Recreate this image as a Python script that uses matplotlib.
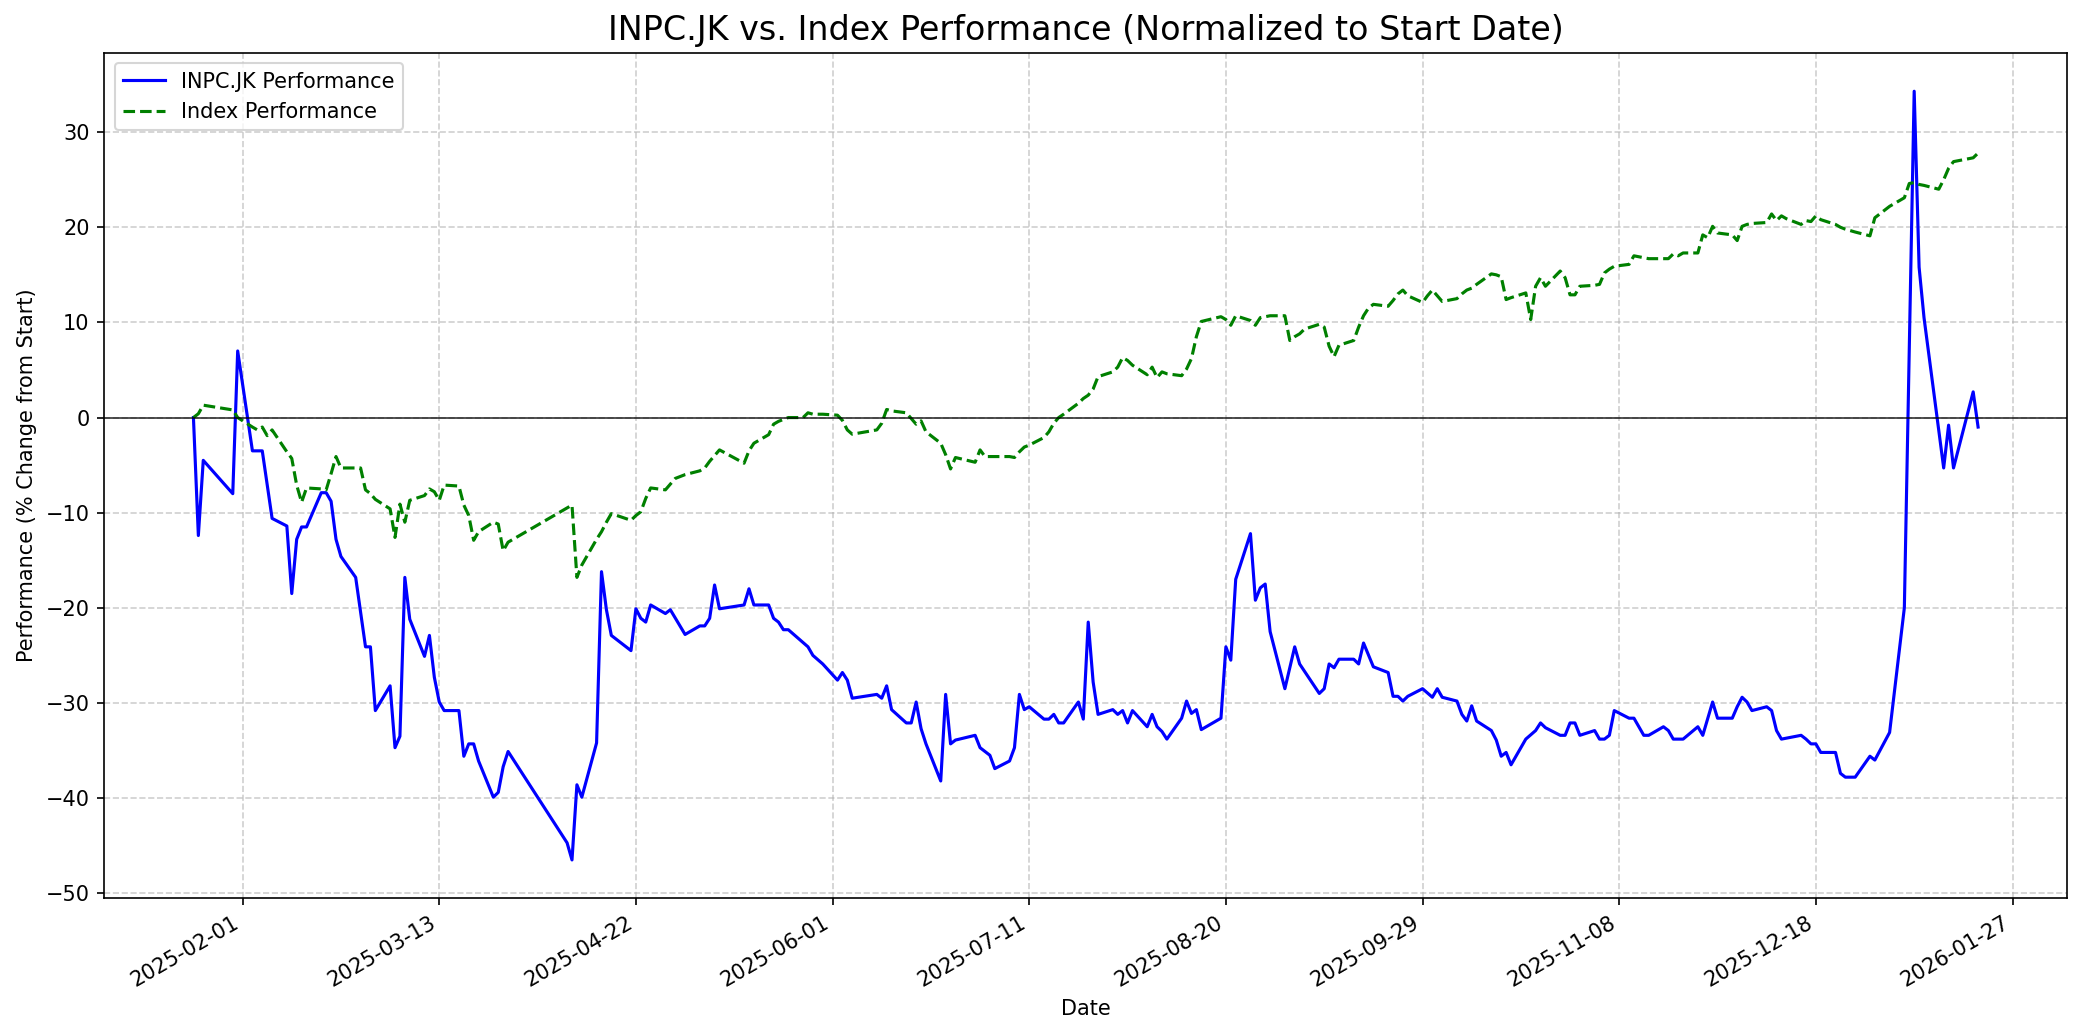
import pandas as pd
import matplotlib
matplotlib.use("Agg")
import matplotlib.pyplot as plt
import matplotlib.dates as mdates

# INPC.JK performance (% change from start)
stock_dates = [
    "2025-01-22", "2025-01-23", "2025-01-24", "2025-01-30", "2025-01-31", "2025-02-03", "2025-02-05",
    "2025-02-07", "2025-02-10", "2025-02-11", "2025-02-12", "2025-02-13", "2025-02-14", "2025-02-17",
    "2025-02-18", "2025-02-19", "2025-02-20", "2025-02-21", "2025-02-24", "2025-02-26", "2025-02-27",
    "2025-02-28", "2025-03-03", "2025-03-04", "2025-03-05", "2025-03-06", "2025-03-07", "2025-03-10",
    "2025-03-11", "2025-03-12", "2025-03-13", "2025-03-14", "2025-03-17", "2025-03-18", "2025-03-19",
    "2025-03-20", "2025-03-21", "2025-03-24", "2025-03-25", "2025-03-26", "2025-03-27", "2025-04-08",
    "2025-04-09", "2025-04-10", "2025-04-11", "2025-04-14", "2025-04-15", "2025-04-16", "2025-04-17",
    "2025-04-21", "2025-04-22", "2025-04-23", "2025-04-24", "2025-04-25", "2025-04-28", "2025-04-29",
    "2025-05-02", "2025-05-05", "2025-05-06", "2025-05-07", "2025-05-08", "2025-05-09", "2025-05-14",
    "2025-05-15", "2025-05-16", "2025-05-19", "2025-05-20", "2025-05-21", "2025-05-22", "2025-05-23",
    "2025-05-27", "2025-05-28", "2025-05-30", "2025-06-02", "2025-06-03", "2025-06-04", "2025-06-05",
    "2025-06-10", "2025-06-11", "2025-06-12", "2025-06-13", "2025-06-16", "2025-06-17", "2025-06-18",
    "2025-06-19", "2025-06-20", "2025-06-23", "2025-06-24", "2025-06-25", "2025-06-26", "2025-06-30",
    "2025-07-01", "2025-07-03", "2025-07-04", "2025-07-07", "2025-07-08", "2025-07-09", "2025-07-10",
    "2025-07-11", "2025-07-14", "2025-07-15", "2025-07-16", "2025-07-17", "2025-07-18", "2025-07-21",
    "2025-07-22", "2025-07-23", "2025-07-24", "2025-07-25", "2025-07-28", "2025-07-29", "2025-07-30",
    "2025-07-31", "2025-08-01", "2025-08-04", "2025-08-05", "2025-08-06", "2025-08-07", "2025-08-08",
    "2025-08-11", "2025-08-12", "2025-08-13", "2025-08-14", "2025-08-15", "2025-08-19", "2025-08-20",
    "2025-08-21", "2025-08-22", "2025-08-25", "2025-08-26", "2025-08-27", "2025-08-28", "2025-08-29",
    "2025-09-01", "2025-09-03", "2025-09-04", "2025-09-08", "2025-09-09", "2025-09-10", "2025-09-11",
    "2025-09-12", "2025-09-15", "2025-09-16", "2025-09-17", "2025-09-19", "2025-09-22", "2025-09-23",
    "2025-09-24", "2025-09-25", "2025-09-26", "2025-09-29", "2025-10-01", "2025-10-02", "2025-10-03",
    "2025-10-06", "2025-10-07", "2025-10-08", "2025-10-09", "2025-10-10", "2025-10-13", "2025-10-14",
    "2025-10-15", "2025-10-16", "2025-10-17", "2025-10-20", "2025-10-22", "2025-10-23", "2025-10-24",
    "2025-10-27", "2025-10-28", "2025-10-29", "2025-10-30", "2025-10-31", "2025-11-03", "2025-11-04",
    "2025-11-05", "2025-11-06", "2025-11-07", "2025-11-10", "2025-11-11", "2025-11-13", "2025-11-14",
    "2025-11-17", "2025-11-18", "2025-11-19", "2025-11-21", "2025-11-24", "2025-11-25", "2025-11-27",
    "2025-11-28", "2025-12-01", "2025-12-02", "2025-12-03", "2025-12-04", "2025-12-05", "2025-12-08",
    "2025-12-09", "2025-12-10", "2025-12-11", "2025-12-15", "2025-12-16", "2025-12-17", "2025-12-18",
    "2025-12-19", "2025-12-22", "2025-12-23", "2025-12-24", "2025-12-26", "2025-12-29", "2025-12-30",
    "2026-01-02", "2026-01-05", "2026-01-07", "2026-01-08", "2026-01-09", "2026-01-13", "2026-01-14",
    "2026-01-15", "2026-01-19", "2026-01-20",
]
stock_perf = [
    0.0, -12.4, -4.5, -8.0, 7.0, -3.5, -3.5,
    -10.6, -11.4, -18.5, -12.8, -11.5, -11.5, -7.9,
    -7.9, -8.8, -12.8, -14.6, -16.8, -24.1, -24.1,
    -30.8, -28.2, -34.7, -33.5, -16.8, -21.2, -25.1,
    -22.9, -27.3, -29.9, -30.8, -30.8, -35.6, -34.3,
    -34.3, -36.1, -39.9, -39.4, -36.7, -35.1, -44.7,
    -46.5, -38.6, -39.9, -34.2, -16.2, -20.2, -22.9,
    -24.5, -20.1, -21.1, -21.5, -19.7, -20.6, -20.2,
    -22.8, -21.9, -21.9, -21.1, -17.6, -20.1, -19.7,
    -18.0, -19.7, -19.7, -21.1, -21.5, -22.3, -22.3,
    -24.1, -25.0, -25.9, -27.6, -26.8, -27.6, -29.5,
    -29.1, -29.5, -28.2, -30.7, -32.1, -32.1, -29.9,
    -32.7, -34.3, -38.2, -29.1, -34.3, -33.9, -33.4,
    -34.7, -35.5, -36.9, -36.1, -34.7, -29.1, -30.7,
    -30.4, -31.7, -31.7, -31.2, -32.1, -32.1, -29.9,
    -31.7, -21.5, -27.8, -31.2, -30.7, -31.2, -30.8,
    -32.1, -30.8, -32.5, -31.2, -32.5, -33.0, -33.8,
    -31.6, -29.8, -31.1, -30.7, -32.8, -31.6, -24.1,
    -25.5, -17.0, -12.2, -19.2, -17.9, -17.5, -22.5,
    -28.5, -24.1, -25.9, -29.0, -28.5, -25.9, -26.3,
    -25.4, -25.4, -25.9, -23.7, -26.2, -26.8, -29.3,
    -29.3, -29.8, -29.3, -28.5, -29.4, -28.5, -29.4,
    -29.8, -31.2, -31.9, -30.3, -31.9, -32.9, -33.9,
    -35.6, -35.2, -36.5, -33.8, -32.9, -32.1, -32.6,
    -33.4, -33.4, -32.1, -32.1, -33.4, -32.9, -33.8,
    -33.8, -33.4, -30.8, -31.6, -31.6, -33.4, -33.4,
    -32.5, -32.9, -33.8, -33.8, -32.5, -33.4, -29.9,
    -31.6, -31.6, -30.4, -29.4, -29.9, -30.8, -30.4,
    -30.8, -32.9, -33.8, -33.4, -33.8, -34.3, -34.3,
    -35.2, -35.2, -37.4, -37.8, -37.8, -35.6, -36.0,
    -33.1, -20.0, 34.3, 15.8, 10.5, -5.3, -0.8,
    -5.3, 2.7, -1.0,
]

# Index performance (% change from start)
index_dates = [
    "2025-01-22", "2025-01-23", "2025-01-24", "2025-01-30", "2025-01-31", "2025-02-03", "2025-02-04",
    "2025-02-05", "2025-02-06", "2025-02-07", "2025-02-10", "2025-02-11", "2025-02-12", "2025-02-13",
    "2025-02-14", "2025-02-17", "2025-02-18", "2025-02-19", "2025-02-20", "2025-02-21", "2025-02-24",
    "2025-02-25", "2025-02-26", "2025-02-27", "2025-02-28", "2025-03-03", "2025-03-04", "2025-03-05",
    "2025-03-06", "2025-03-07", "2025-03-10", "2025-03-11", "2025-03-12", "2025-03-13", "2025-03-14",
    "2025-03-17", "2025-03-18", "2025-03-19", "2025-03-20", "2025-03-21", "2025-03-24", "2025-03-25",
    "2025-03-26", "2025-03-27", "2025-04-09", "2025-04-10", "2025-04-11", "2025-04-14", "2025-04-15",
    "2025-04-16", "2025-04-17", "2025-04-21", "2025-04-22", "2025-04-23", "2025-04-24", "2025-04-25",
    "2025-04-28", "2025-04-29", "2025-04-30", "2025-05-02", "2025-05-05", "2025-05-06", "2025-05-07",
    "2025-05-08", "2025-05-09", "2025-05-14", "2025-05-15", "2025-05-16", "2025-05-19", "2025-05-20",
    "2025-05-21", "2025-05-22", "2025-05-23", "2025-05-26", "2025-05-27", "2025-05-28", "2025-05-30",
    "2025-06-02", "2025-06-03", "2025-06-04", "2025-06-05", "2025-06-10", "2025-06-11", "2025-06-12",
    "2025-06-13", "2025-06-16", "2025-06-17", "2025-06-18", "2025-06-19", "2025-06-20", "2025-06-23",
    "2025-06-24", "2025-06-25", "2025-06-26", "2025-06-30", "2025-07-01", "2025-07-02", "2025-07-03",
    "2025-07-04", "2025-07-07", "2025-07-08", "2025-07-09", "2025-07-10", "2025-07-11", "2025-07-14",
    "2025-07-15", "2025-07-16", "2025-07-17", "2025-07-18", "2025-07-21", "2025-07-22", "2025-07-23",
    "2025-07-24", "2025-07-25", "2025-07-28", "2025-07-29", "2025-07-30", "2025-07-31", "2025-08-01",
    "2025-08-04", "2025-08-05", "2025-08-06", "2025-08-07", "2025-08-08", "2025-08-11", "2025-08-12",
    "2025-08-13", "2025-08-14", "2025-08-15", "2025-08-19", "2025-08-20", "2025-08-21", "2025-08-22",
    "2025-08-25", "2025-08-26", "2025-08-27", "2025-08-28", "2025-08-29", "2025-09-01", "2025-09-02",
    "2025-09-03", "2025-09-04", "2025-09-05", "2025-09-08", "2025-09-09", "2025-09-10", "2025-09-11",
    "2025-09-12", "2025-09-15", "2025-09-16", "2025-09-17", "2025-09-18", "2025-09-19", "2025-09-22",
    "2025-09-23", "2025-09-24", "2025-09-25", "2025-09-26", "2025-09-29", "2025-09-30", "2025-10-01",
    "2025-10-02", "2025-10-03", "2025-10-06", "2025-10-07", "2025-10-08", "2025-10-09", "2025-10-10",
    "2025-10-13", "2025-10-14", "2025-10-15", "2025-10-16", "2025-10-17", "2025-10-20", "2025-10-21",
    "2025-10-22", "2025-10-23", "2025-10-24", "2025-10-27", "2025-10-28", "2025-10-29", "2025-10-30",
    "2025-10-31", "2025-11-03", "2025-11-04", "2025-11-05", "2025-11-06", "2025-11-07", "2025-11-10",
    "2025-11-11", "2025-11-12", "2025-11-13", "2025-11-14", "2025-11-17", "2025-11-18", "2025-11-19",
    "2025-11-20", "2025-11-21", "2025-11-24", "2025-11-25", "2025-11-26", "2025-11-27", "2025-11-28",
    "2025-12-01", "2025-12-02", "2025-12-03", "2025-12-04", "2025-12-05", "2025-12-08", "2025-12-09",
    "2025-12-10", "2025-12-11", "2025-12-12", "2025-12-15", "2025-12-16", "2025-12-17", "2025-12-18",
    "2025-12-19", "2025-12-22", "2025-12-23", "2025-12-24", "2025-12-26", "2025-12-29", "2025-12-30",
    "2026-01-02", "2026-01-05", "2026-01-06", "2026-01-07", "2026-01-08", "2026-01-09", "2026-01-12",
    "2026-01-13", "2026-01-14", "2026-01-15", "2026-01-19", "2026-01-20",
]
index_perf = [
    0.0, 0.4, 1.3, 0.8, 0.0, -1.0, -1.3,
    -1.0, -1.9, -1.3, -3.6, -4.3, -7.1, -8.9,
    -7.4, -7.5, -7.6, -5.9, -4.1, -5.3, -5.3,
    -5.3, -7.6, -8.0, -8.6, -9.6, -12.6, -9.1,
    -11.0, -8.7, -8.2, -7.5, -7.8, -8.7, -7.1,
    -7.2, -9.2, -10.3, -12.9, -12.0, -11.0, -11.2,
    -14.0, -13.1, -9.2, -16.8, -15.5, -12.8, -12.0,
    -11.0, -10.1, -10.8, -10.3, -9.9, -8.5, -7.4,
    -7.6, -7.0, -6.4, -6.0, -5.6, -5.3, -4.6,
    -4.0, -3.4, -4.8, -3.5, -2.7, -1.8, -0.7,
    -0.4, -0.2, 0.0, 0.0, 0.5, 0.35, 0.35,
    0.25, -0.3, -1.3, -1.75, -1.3, -0.6, 0.85,
    0.7, 0.5, -0.1, -0.7, -0.35, -1.5, -2.7,
    -3.9, -5.4, -4.2, -4.7, -3.4, -4.1, -4.1,
    -4.1, -4.1, -4.2, -3.6, -3.1, -2.9, -2.1,
    -1.5, -0.6, 0.0, 0.35, 1.5, 2.0, 2.35,
    3.0, 4.3, 4.8, 5.3, 6.3, 6.0, 5.5,
    4.5, 5.3, 4.2, 4.8, 4.6, 4.4, 5.1,
    6.2, 8.5, 10.1, 10.6, 10.3, 9.7, 10.7,
    10.2, 9.7, 10.5, 10.6, 10.7, 10.7, 8.1,
    8.5, 8.8, 9.3, 9.8, 9.5, 7.5, 6.4,
    7.6, 8.1, 9.5, 10.7, 11.5, 11.9, 11.7,
    12.3, 13.0, 13.4, 12.8, 12.1, 12.8, 13.4,
    12.8, 12.2, 12.5, 13.0, 13.4, 13.6, 14.0,
    15.1, 15.0, 14.8, 12.4, 12.6, 13.1, 10.3,
    13.8, 14.7, 13.8, 15.4, 14.7, 12.9, 12.9,
    13.8, 13.9, 14.0, 15.2, 15.6, 15.9, 16.1,
    17.0, 16.9, 16.8, 16.7, 16.7, 16.7, 17.2,
    17.0, 17.3, 17.3, 19.2, 18.9, 20.1, 19.4,
    19.2, 18.6, 20.1, 20.3, 20.4, 20.5, 21.4,
    20.7, 21.2, 20.9, 20.3, 20.7, 20.6, 21.2,
    20.8, 20.3, 20.0, 19.8, 19.5, 19.1, 21.0,
    22.2, 23.1, 24.6, 24.7, 24.5, 24.4, 24.0,
    25.0, 26.2, 26.9, 27.3, 27.8,
]

tick_dates = pd.date_range("2025-02-01", periods=10, freq="40D")

stock_x = pd.to_datetime(stock_dates)
index_x = pd.to_datetime(index_dates)

fig, ax = plt.subplots(figsize=(2084 / 150, 1035 / 150), dpi=150)

ax.plot(stock_x, stock_perf, color="blue", linestyle="-", linewidth=1.5, label="INPC.JK Performance")
ax.plot(index_x, index_perf, color="green", linestyle="--", linewidth=1.5, label="Index Performance")
ax.axhline(0, color="black", linewidth=0.8, alpha=0.8)

ax.set_title("INPC.JK vs. Index Performance (Normalized to Start Date)", fontsize=16)
ax.set_xlabel("Date")
ax.set_ylabel("Performance (% Change from Start)")
ax.legend(loc="upper left")
ax.grid(True, linestyle="--", alpha=0.6)

ax.set_xticks(tick_dates)
ax.xaxis.set_major_formatter(mdates.DateFormatter("%Y-%m-%d"))
fig.autofmt_xdate()

fig.subplots_adjust(left=0.050, right=0.992, top=0.949, bottom=0.132)
fig.savefig("out.png", dpi=150)
